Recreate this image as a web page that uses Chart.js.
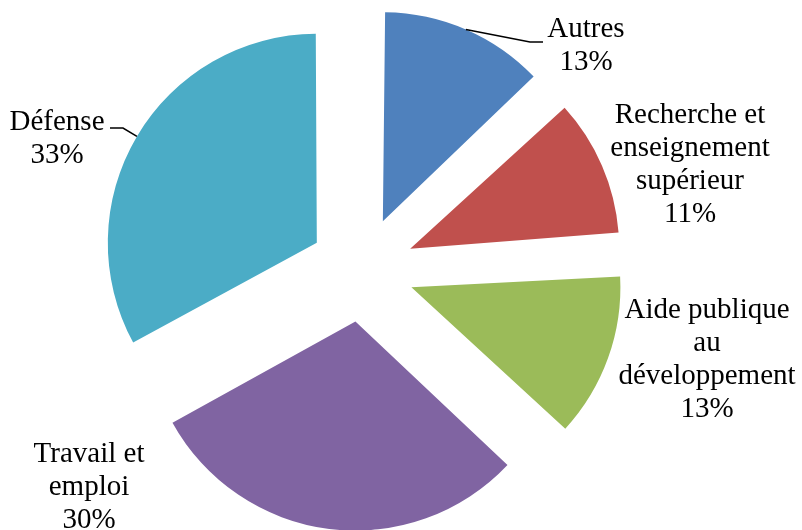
<!DOCTYPE html>
<html>
<head>
<meta charset="utf-8">
<script src="https://cdn.jsdelivr.net/npm/chart.js@4.4.0/dist/chart.umd.min.js"></script>
<style>
  html, body { margin: 0; padding: 0; background: #fff; }
  #box { width: 802px; height: 530px; }
</style>
</head>
<body>
<div id="box"><canvas id="grafico_pizza"></canvas></div>
<script>
let ctx = document.getElementById('grafico_pizza')

// Configuração do gráfico
Chart.defaults.font.family = "'Liberation Serif', serif"
Chart.defaults.color = '#000'

const categorias = ['Autres', 'Recherche et enseignement supérieur', 'Aide publique au développement', 'Travail et emploi', 'Défense']
const valores = [13, 11, 13, 30, 33]
const cores = ['#4F81BD', '#C0504D', '#9BBB59', '#8064A2', '#4BACC6']

// linhas de cada rótulo (quebradas como no gráfico)
const linhasRotulo = [
    ['Autres'],
    ['Recherche et', 'enseignement', 'supérieur'],
    ['Aide publique', 'au', 'développement'],
    ['Travail et', 'emploi'],
    ['Défense']
]

const RAIO = 209
const DESLOC = 210   // chart.js translada o arco em offset/4

// onde fica cada rótulo (centro x, linha de base da 1ª linha)
const posRotulo = [
    [586, 37],
    [690, 123],
    [707, 318],
    [89, 462],
    [57, 130]
]
// linhas de chamada: dobra e fim (só Autres e Défense)
const chamadas = {
    0: [[530, 42], [543, 42]],
    4: [[123, 128], [110, 128]]
}

// o arco cresce um pouco com o offset no v4; mantém o raio igual em todos
const raioFixo = {
    id: 'raioFixo',
    beforeDatasetsDraw(chart) {
        chart.getDatasetMeta(0).data.forEach(arc => {
            const fix = 1 - Math.sin(Math.min(Math.PI, arc.circumference))
            arc.outerRadius = RAIO - (DESLOC / 4) * fix
        })
    }
}

const rotulos = {
    id: 'rotulos',
    afterDatasetsDraw(chart) {
        const c = chart.ctx
        const total = valores.reduce((a, b) => a + b, 0)
        const arcos = chart.getDatasetMeta(0).data
        c.save()
        c.font = "29px 'Liberation Serif', serif"
        c.fillStyle = '#000'
        c.textAlign = 'center'
        c.textBaseline = 'alphabetic'
        linhasRotulo.forEach((linhas, i) => {
            const pct = Math.round(valores[i] / total * 100) + '%'
            const [x, y] = posRotulo[i]
            linhas.concat([pct]).forEach((t, k) => c.fillText(t, x, y + k * 33))
        })
        c.strokeStyle = '#000'
        c.lineWidth = 1.5
        Object.keys(chamadas).forEach(k => {
            const arc = arcos[k]
            const meio = (arc.startAngle + arc.endAngle) / 2
            const r = DESLOC / 4 + RAIO
            const x0 = arc.x + Math.cos(meio) * r
            const y0 = arc.y + Math.sin(meio) * r
            c.beginPath()
            c.moveTo(x0, y0)
            chamadas[k].forEach(p => c.lineTo(p[0], p[1]))
            c.stroke()
        })
        c.restore()
    }
}

const data = {
    labels: categorias,
    datasets: [{
        data: valores,
        backgroundColor: cores,
        borderWidth: 0,
        offset: DESLOC,
        hoverOffset: 0
    }]
}

const config = {
    type: 'pie',
    data,
    options: {
        responsive: true,
        maintainAspectRatio: false,
        animation: false,
        events: [],
        radius: RAIO,
        layout: { padding: { left: 0, right: 78, top: 9, bottom: 0 } },
        plugins: {
            legend: { display: false },
            tooltip: { enabled: false }
        }
    },
    plugins: [raioFixo, rotulos]
}

const graph = new Chart(ctx, config)
</script>
</body>
</html>
